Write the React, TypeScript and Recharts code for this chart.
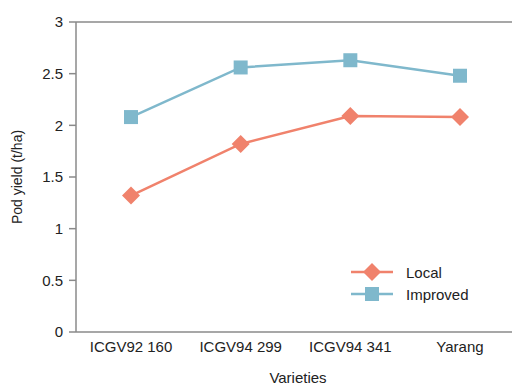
import { LineChart, Line, XAxis, YAxis, ReferenceLine } from 'recharts';

const varieties = ['ICGV92 160', 'ICGV94 299', 'ICGV94 341', 'Yarang'];
const localYield = [1.32, 1.82, 2.09, 2.08];
const improvedYield = [2.08, 2.56, 2.63, 2.48];
const yTicks = [0, 0.5, 1, 1.5, 2, 2.5, 3];

const LOCAL = '#f0826c';
const IMPROVED = '#7fb8cc';
const AXIS = '#8a8a8a';
const FONT = '"Liberation Sans", Arial, Helvetica, sans-serif';

const data = varieties.map((name, i) => ({
  name,
  local: localYield[i],
  improved: improvedYield[i],
}));

const Diamond = (props: any) => {
  const { cx, cy, fill } = props;
  if (cx == null || cy == null) return null;
  const r = 9;
  return <path d={`M${cx},${cy - r}L${cx + r},${cy}L${cx},${cy + r}L${cx - r},${cy}Z`} fill={fill} />;
};

const Square = (props: any) => {
  const { cx, cy, fill } = props;
  if (cx == null || cy == null) return null;
  const s = 7;
  return <rect x={cx - s} y={cy - s} width={s * 2} height={s * 2} fill={fill} />;
};

const LegendBox = () => {
  const items = [
    { label: 'Local', color: LOCAL, shape: 'diamond' },
    { label: 'Improved', color: IMPROVED, shape: 'square' },
  ];
  return (
    <div style={{ position: 'absolute', left: 350, top: 261, fontFamily: FONT, fontSize: 15, color: '#222' }}>
      {items.map(it => (
        <div key={it.label} style={{ display: 'flex', alignItems: 'center', height: 22 }}>
          <svg width={44} height={20}>
            <line x1={1} y1={10} x2={43} y2={10} stroke={it.color} strokeWidth={2.5} />
            {it.shape === 'diamond'
              ? <path d="M22,1L31,10L22,19L13,10Z" fill={it.color} />
              : <rect x={15} y={3} width={14} height={14} fill={it.color} />}
          </svg>
          <span style={{ marginLeft: 12 }}>{it.label}</span>
        </div>
      ))}
    </div>
  );
};

const App = () => {
  return (
    <div style={{ position: 'absolute', left: 0, top: 0, width: 512, height: 386 }}>
      <LineChart
        width={512}
        height={386}
        data={data}
        margin={{ top: 22, right: 0, left: 0, bottom: 0 }}
      >
        <XAxis
          dataKey="name"
          height={54}
          interval={0}
          padding={{ left: 55, right: 52 }}
          axisLine={{ stroke: AXIS, strokeWidth: 1.5 }}
          tickLine={false}
          tickSize={6}
          tickMargin={3}
          tick={{ fill: '#222', fontSize: 15, fontFamily: FONT }}
          label={{ value: 'Varieties', position: 'insideBottom', offset: 3, dx: 4, fill: '#222', fontSize: 15, fontFamily: FONT }}
        />
        <YAxis
          width={76}
          domain={[0, 3]}
          ticks={yTicks}
          interval={0}
          axisLine={{ stroke: AXIS, strokeWidth: 1.5 }}
          tickLine={{ stroke: AXIS, strokeWidth: 1.5 }}
          tickSize={7}
          tickMargin={6}
          tick={{ fill: '#222', fontSize: 15, fontFamily: FONT }}
          label={{
            content: (p: any) => {
              const vb = p.viewBox || { x: 0, y: 22, height: 310 };
              const x = vb.x + 17;
              const y = vb.y + vb.height / 2;
              return (
                <text x={x} y={y} transform={`rotate(-90 ${x} ${y})`} textAnchor="middle" dominantBaseline="central"
                  fill="#222" fontSize={14} fontFamily={FONT}>Pod yield (t/ha)</text>
              );
            },
          }}
        />
        <ReferenceLine y={3} stroke={AXIS} strokeWidth={1.5} />
        <Line
          dataKey="local"
          name="Local"
          stroke={LOCAL}
          strokeWidth={2.5}
          dot={<Diamond fill={LOCAL} />}
          activeDot={false}
          isAnimationActive={false}
        />
        <Line
          dataKey="improved"
          name="Improved"
          stroke={IMPROVED}
          strokeWidth={2.5}
          dot={<Square fill={IMPROVED} />}
          activeDot={false}
          isAnimationActive={false}
        />
      </LineChart>
      <LegendBox />
    </div>
  );
};

export default App;
